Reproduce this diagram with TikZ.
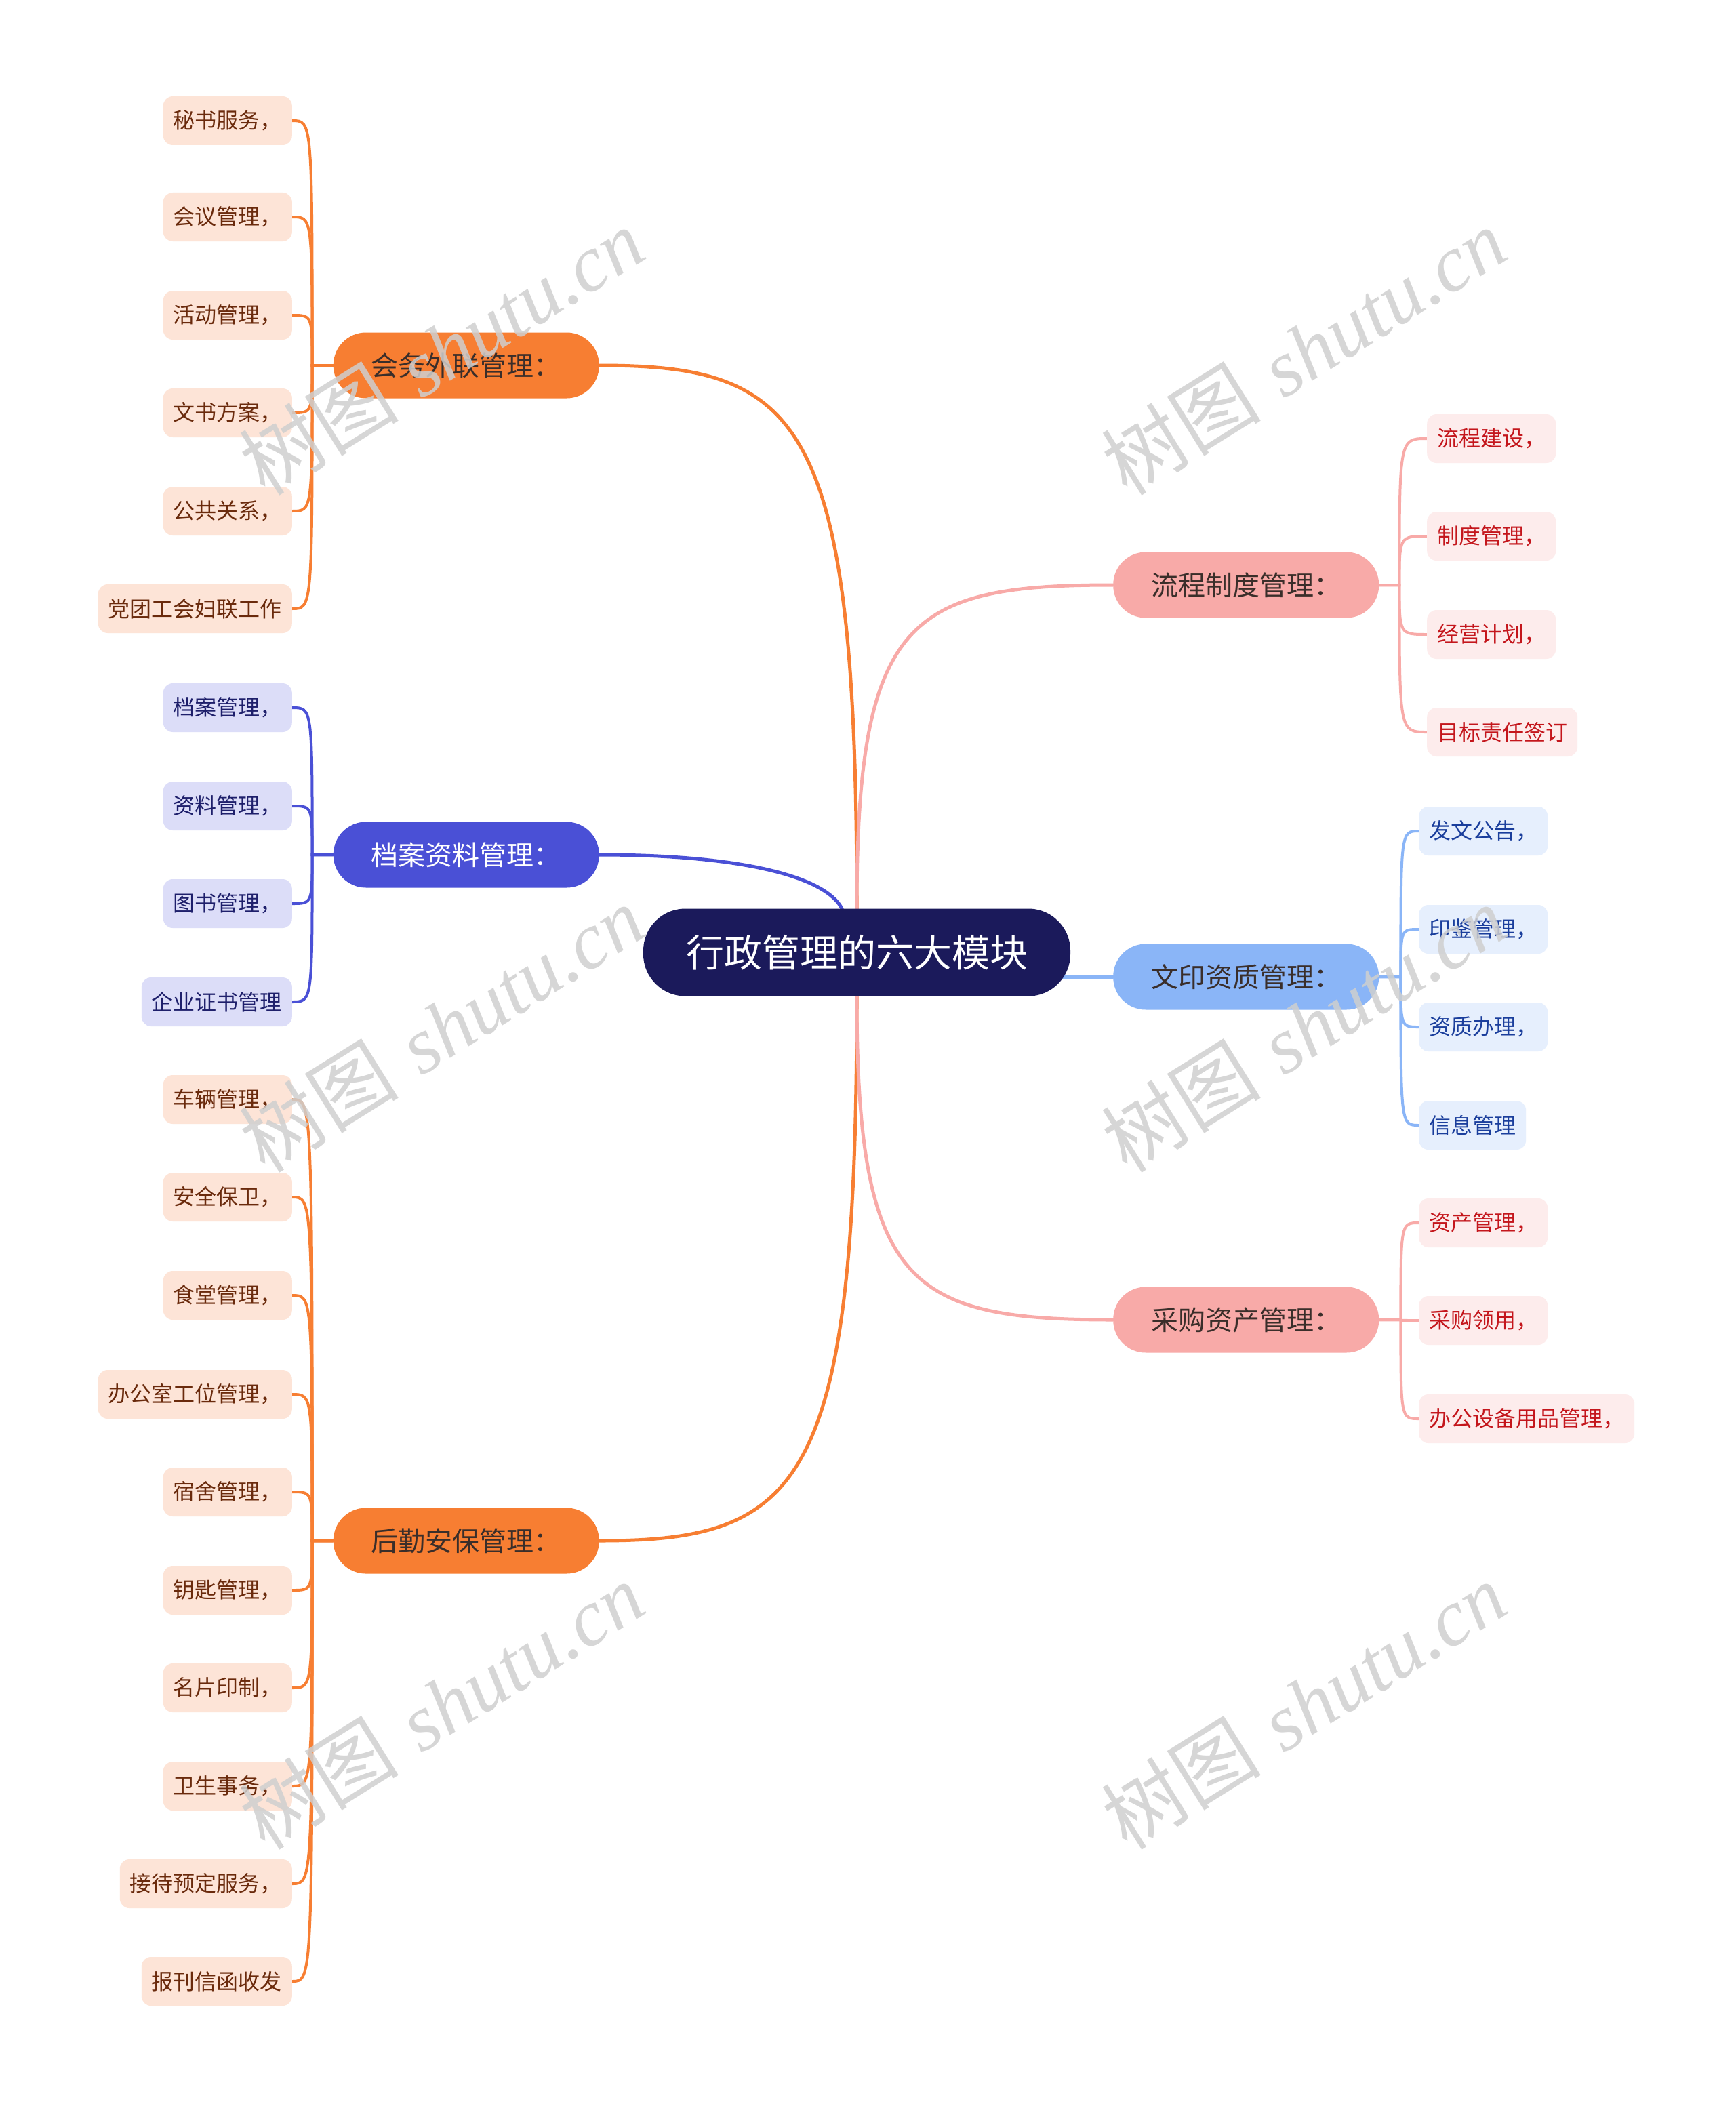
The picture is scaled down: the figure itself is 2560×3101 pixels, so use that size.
\documentclass[tikz,border=0pt]{standalone}
\usepackage{fontspec}
\newfontfamily\cjk{Noto Sans CJK SC}
\newfontfamily\wmserif{Liberation Serif}
\usetikzlibrary{calc}
\pgfdeclarelayer{bg}
\pgfsetlayers{bg,main}
\definecolor{rootc}{HTML}{1B1A5B}
\definecolor{orangec}{HTML}{F77E32}
\definecolor{indigoc}{HTML}{4A50D6}
\definecolor{pinkc}{HTML}{F8AAA8}
\definecolor{bluec}{HTML}{8AB5F7}
\definecolor{peachf}{HTML}{FDE4D7}
\definecolor{lavf}{HTML}{DCDDF8}
\definecolor{lpinkf}{HTML}{FDECEC}
\definecolor{lbluef}{HTML}{E6EFFD}
\definecolor{browntx}{HTML}{6A2A0C}
\definecolor{navytx}{HTML}{1E1F6B}
\definecolor{redtx}{HTML}{C4161C}
\definecolor{bluetx}{HTML}{1A3E9C}
\definecolor{darktx}{HTML}{3A2E2A}
\definecolor{wmc}{HTML}{CFCFCF}
\begin{document}
\begin{tikzpicture}[x=1pt,y=-1pt,
  rootbox/.style={fill=rootc, text=white, rounded corners=62pt, minimum width=630pt, minimum height=129pt, inner sep=0pt, font=\cjk\fontsize{56}{64}\selectfont},
  branchbox/.style={rounded corners=48pt, minimum height=97pt, inner xsep=56pt, inner ysep=0pt, font=\cjk\fontsize{40}{46}\selectfont},
  leafbox/.style={rounded corners=14pt, minimum height=72pt, inner xsep=15pt, inner ysep=0pt, font=\cjk\fontsize{32}{38}\selectfont},
  orangeB/.style={branchbox, fill=orangec, text=darktx},
  indigoB/.style={branchbox, fill=indigoc, text=white},
  pinkB/.style={branchbox, fill=pinkc, text=darktx},
  blueB/.style={branchbox, fill=bluec, text=darktx},
  peachL/.style={leafbox, fill=peachf, text=browntx, anchor=east},
  lavL/.style={leafbox, fill=lavf, text=navytx, anchor=east},
  lpinkL/.style={leafbox, fill=lpinkf, text=redtx, anchor=west},
  lblueL/.style={leafbox, fill=lbluef, text=bluetx, anchor=west},
  mainline/.style={line width=5pt, line cap=round},
  leafline/.style={line width=4pt, line cap=round},
  wmark/.style={rotate=32, text=wmc, opacity=0.85, inner sep=0pt}
]
\useasboundingbox (0,0) rectangle (2560,3101);

% root
\node[rootbox] (root) at (1264,1405) {行政管理的六大模块};

% branches
\node[orangeB, anchor=east] (b1) at (884,539) {会务外联管理：};
\node[indigoB, anchor=east] (b2) at (884,1261) {档案资料管理：};
\node[orangeB, anchor=east] (b3) at (884,2273) {后勤安保管理：};
\node[pinkB, anchor=west] (b4) at (1642,863) {流程制度管理：};
\node[blueB, anchor=west] (b5) at (1642,1441) {文印资质管理：};
\node[pinkB, anchor=west] (b6) at (1642,1947) {采购资产管理：};

% leaves of b1
\node[peachL] (a1) at (431,178) {秘书服务，};
\node[peachL] (a2) at (431,320) {会议管理，};
\node[peachL] (a3) at (431,465) {活动管理，};
\node[peachL] (a4) at (431,609) {文书方案，};
\node[peachL] (a5) at (431,754) {公共关系，};
\node[peachL] (a6) at (431,898) {党团工会妇联工作};

% leaves of b2
\node[lavL] (d1) at (431,1044) {档案管理，};
\node[lavL] (d2) at (431,1189) {资料管理，};
\node[lavL] (d3) at (431,1333) {图书管理，};
\node[lavL] (d4) at (431,1478) {企业证书管理};

% leaves of b3
\node[peachL] (h1) at (431,1622) {车辆管理，};
\node[peachL] (h2) at (431,1766) {安全保卫，};
\node[peachL] (h3) at (431,1911) {食堂管理，};
\node[peachL] (h4) at (431,2057) {办公室工位管理，};
\node[peachL] (h5) at (431,2201) {宿舍管理，};
\node[peachL] (h6) at (431,2346) {钥匙管理，};
\node[peachL] (h7) at (431,2490) {名片印制，};
\node[peachL] (h8) at (431,2635) {卫生事务，};
\node[peachL] (h9) at (431,2779) {接待预定服务，};
\node[peachL] (h10) at (431,2923) {报刊信函收发};

% leaves of b4
\node[lpinkL] (p1) at (2105,647) {流程建设，};
\node[lpinkL] (p2) at (2105,791) {制度管理，};
\node[lpinkL] (p3) at (2105,936) {经营计划，};
\node[lpinkL] (p4) at (2105,1080) {目标责任签订};

% leaves of b5
\node[lblueL] (w1) at (2093,1226) {发文公告，};
\node[lblueL] (w2) at (2093,1371) {印鉴管理，};
\node[lblueL] (w3) at (2093,1515) {资质办理，};
\node[lblueL] (w4) at (2093,1660) {信息管理};

% leaves of b6
\node[lpinkL] (c1) at (2093,1804) {资产管理，};
\node[lpinkL] (c2) at (2093,1948) {采购领用，};
\node[lpinkL] (c3) at (2093,2093) {办公设备用品管理，};

\begin{pgfonlayer}{bg}
  \fill[white] (0,0) rectangle (2560,3101);
  % main connectors
  \draw[mainline, orangec] (root.center) -- (root.north)
     .. controls ($(root.north |- b1.east)+(0,80)$) and ($(b1.east)+(300,0)$) .. (b1.east);
  \draw[mainline, indigoc] ([xshift=-22pt]root.center) -- ([xshift=-22pt]root.north)
     .. controls ($([xshift=-22pt]root.north)+(-27,-51)$) and ($(b2.east)+(196,0)$) .. (b2.east);
  \draw[mainline, orangec] (root.center) -- (root.south)
     .. controls ($(root.south |- b3.east)+(0,-80)$) and ($(b3.east)+(300,0)$) .. (b3.east);
  \draw[mainline, pinkc] (root.center) -- (root.north)
     .. controls ($(root.north |- b4.west)+(0,48)$) and ($(b4.west)+(-300,0)$) .. (b4.west);
  \draw[mainline, bluec] (b5.west) -- (b5.west -| root.center);
  \draw[mainline, pinkc] (root.center) -- (root.south)
     .. controls ($(root.south |- b6.west)+(0,-48)$) and ($(b6.west)+(-300,0)$) .. (b6.west);

  % spine coordinates
  \coordinate (s1) at ($(b1.west)+(-31,0)$);
  \coordinate (s2) at ($(b2.west)+(-31,0)$);
  \coordinate (s3) at ($(b3.west)+(-31,0)$);
  \coordinate (s4) at ($(b4.east)+(30,0)$);
  \coordinate (s5) at ($(b5.east)+(32,0)$);
  \coordinate (s6) at ($(b6.east)+(32,0)$);

  \foreach \l in {a1,a2,a3,a4,a5,a6}
    \draw[leafline, orangec] (b1.west) -- (s1) .. controls (s1 |- \l.east) and (s1 |- \l.east) .. (\l.east);
  \foreach \l in {d1,d2,d3,d4}
    \draw[leafline, indigoc] (b2.west) -- (s2) .. controls (s2 |- \l.east) and (s2 |- \l.east) .. (\l.east);
  \foreach \l in {h1,h2,h3,h4,h5,h6,h7,h8,h9,h10}
    \draw[leafline, orangec] (b3.west) -- (s3) .. controls (s3 |- \l.east) and (s3 |- \l.east) .. (\l.east);
  \foreach \l in {p1,p2,p3,p4}
    \draw[leafline, pinkc] (b4.east) -- (s4) .. controls (s4 |- \l.west) and (s4 |- \l.west) .. (\l.west);
  \foreach \l in {w1,w2,w3,w4}
    \draw[leafline, bluec] (b5.east) -- (s5) .. controls (s5 |- \l.west) and (s5 |- \l.west) .. (\l.west);
  \foreach \l in {c1,c2,c3}
    \draw[leafline, pinkc] (b6.east) -- (s6) .. controls (s6 |- \l.west) and (s6 |- \l.west) .. (\l.west);
\end{pgfonlayer}

% watermarks
\foreach \x/\y in {651/518, 1923/518, 651/1517, 1923/1517, 651/2516, 1923/2516}
  \node[wmark] at (\x,\y) {\fontsize{118}{120}\selectfont{\cjk 树图} {\wmserif\itshape shutu.cn}};
\end{tikzpicture}
\end{document}
